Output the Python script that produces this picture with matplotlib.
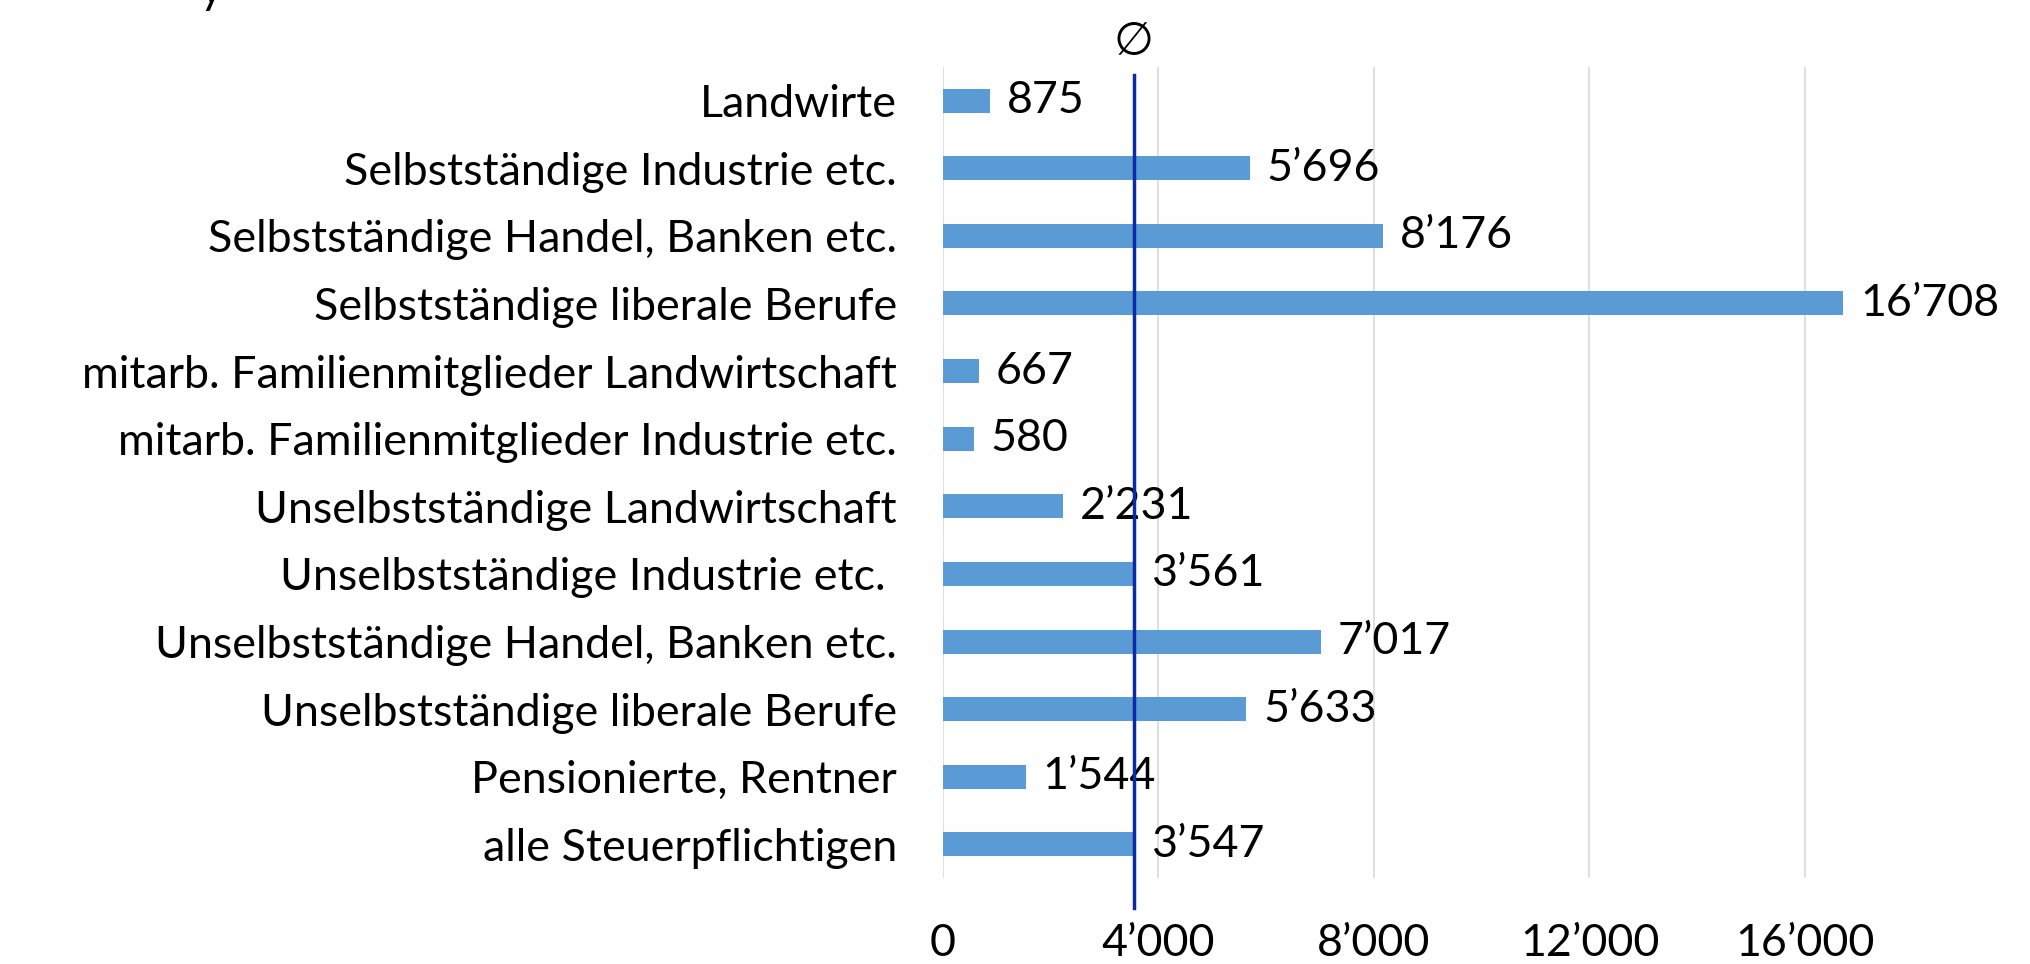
import matplotlib; matplotlib.use('agg')
import matplotlib.pyplot as plt
import matplotlib.transforms as mtransforms

# Data (top to bottom)
categories = [
    'Landwirte',
    'Selbstständige Industrie etc.',
    'Selbstständige Handel, Banken etc.',
    'Selbstständige liberale Berufe',
    'mitarb. Familienmitglieder Landwirtschaft',
    'mitarb. Familienmitglieder Industrie etc.',
    'Unselbstständige Landwirtschaft',
    'Unselbstständige Industrie etc. ',
    'Unselbstständige Handel, Banken etc.',
    'Unselbstständige liberale Berufe',
    'Pensionierte, Rentner',
    'alle Steuerpflichtigen',
]
values = [875, 5696, 8176, 16708, 667, 580, 2231, 3561, 7017, 5633, 1544, 3547]
average = 3547
xticks = [0, 4000, 8000, 12000, 16000]

BAR_COLOR = '#5B9BD5'
LINE_COLOR = '#0A2AA6'
FONT = 'Lato'
FS = 32.2


def swiss(v):
    return '{:,}'.format(v).replace(',', '\u2019')


fig = plt.figure(figsize=(20.3, 9.64), dpi=100)
ax = fig.add_axes([0.4644, 0.0889, 0.531, 0.8419])

ypos = list(range(len(categories)))
ax.barh(ypos, values, height=0.355, color=BAR_COLOR, zorder=2)
ax.set_ylim(len(categories) - 0.5, -0.5)
ax.set_xlim(0, 20000)

ax.set_yticks(ypos)
ax.set_yticklabels(categories, fontsize=FS, family=FONT)
ax.set_xticks(xticks)
ax.set_xticklabels([swiss(t) for t in xticks], fontsize=FS, family=FONT)
ax.tick_params(axis='y', length=0, pad=33)
ax.tick_params(axis='x', length=0, pad=32)

ax.grid(axis='x', color='#D9D9D9', linewidth=1.2, zorder=0)
for s in ax.spines.values():
    s.set_visible(False)

# value labels right of each bar
for y, v in zip(ypos, values):
    ax.annotate(swiss(v), (v, y), xytext=(12, 0), textcoords='offset points',
                va='center', ha='left', fontsize=FS, family=FONT, zorder=3)

# average line with the diameter sign on top
ax.axvline(average, ymin=-0.0365, ymax=0.990, color=LINE_COLOR,
           linewidth=2.5, clip_on=False, zorder=4)
trans = mtransforms.blended_transform_factory(ax.transData, ax.transAxes)
ax.text(average, 1.03, '\u2205', transform=trans, ha='center', va='center',
        fontsize=33, family='DejaVu Sans')

# descender of a cut-off title at the very top
fig.text(0.104, 0.997, 'y', ha='center', va='baseline', fontsize=FS, family=FONT)

fig.savefig('out.png', dpi=100)
